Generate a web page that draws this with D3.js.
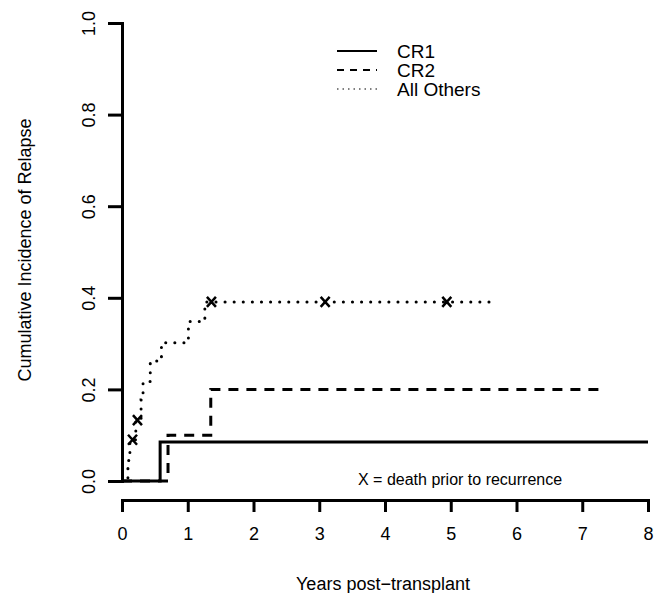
<!DOCTYPE html>
<meta charset="utf-8">
<style>
  body { margin: 0; background: #fff; }
  text { font-family: "Liberation Sans", Arial, sans-serif; fill: #000; }
</style>
<script src="https://d3js.org/d3.v7.min.js"></script>
<div id="chart"></div>
<script>

// step curves, [years, cumulative incidence]
var cr1 = [[0, 0], [0.58, 0.085], [8.0, 0.085]];
var cr2 = [[0, 0], [0.70, 0.10], [1.35, 0.20], [7.30, 0.20]];
var others = [[0, 0], [0.09, 0.045], [0.12, 0.09], [0.21, 0.133], [0.29, 0.177],
              [0.32, 0.217], [0.43, 0.262], [0.60, 0.302], [1.01, 0.348],
              [1.26, 0.391], [5.65, 0.391]];
// deaths prior to recurrence (All Others)
var deaths = [[0.16, 0.09], [0.235, 0.133], [1.36, 0.391], [3.09, 0.391], [4.94, 0.391]];

var xTicks = [0, 1, 2, 3, 4, 5, 6, 7, 8];
var yTicks = [0, 0.2, 0.4, 0.6, 0.8, 1.0];
var legendNames = ["CR1", "CR2", "All Others"];

var width = 660, height = 593;

var svg = d3.select("#chart")
  .append("svg")
    .attr("width", width)
    .attr("height", height);

var x = d3.scaleLinear().domain([0, 8]).range([122, 648]);
var y = d3.scaleLinear().domain([0, 1]).range([481, 23]);

// X axis
var xAxis = svg.append("g")
  .attr("transform", "translate(0,500)")
  .call(d3.axisBottom(x).tickValues(xTicks).tickFormat(d3.format("d"))
        .tickSize(12).tickSizeOuter(0).tickPadding(15.5));
xAxis.select(".domain").attr("stroke-width", 3).attr("stroke-linecap", "square");
xAxis.selectAll(".tick line").attr("stroke-width", 3);
xAxis.selectAll("text").style("font-size", "18px").attr("font-family", null);

// Y axis
var yAxis = svg.append("g")
  .attr("transform", "translate(122,0)")
  .call(d3.axisLeft(y).tickValues(yTicks).tickFormat(d3.format(".1f"))
        .tickSize(14).tickSizeOuter(0));
yAxis.select(".domain").attr("stroke-width", 3).attr("stroke-linecap", "square");
yAxis.selectAll(".tick line").attr("stroke-width", 3);
yAxis.selectAll("text")
  .attr("x", 0).attr("y", -27).attr("dy", null)
  .attr("text-anchor", "middle")
  .attr("transform", "rotate(-90)")
  .attr("font-family", null)
  .style("font-size", "18px");

// axis titles
svg.append("text")
  .attr("x", 383).attr("y", 590)
  .attr("text-anchor", "middle")
  .style("font-size", "18px")
  .text("Years post\u2212transplant");

svg.append("text")
  .attr("transform", "translate(31,250)rotate(-90)")
  .attr("text-anchor", "middle")
  .style("font-size", "18px")
  .text("Cumulative Incidence of Relapse");

// curves
var line = d3.line()
  .x(function(d) { return x(d[0]); })
  .y(function(d) { return y(d[1]); })
  .curve(d3.curveStepAfter);

svg.append("path").datum(cr1)
  .attr("d", line).attr("fill", "none").attr("stroke", "#000")
  .attr("stroke-width", 3);

svg.append("path").datum(cr2)
  .attr("d", line).attr("fill", "none").attr("stroke", "#000")
  .attr("stroke-width", 3).attr("stroke-dasharray", "10,8");

svg.append("path").datum(others)
  .attr("d", line).attr("fill", "none").attr("stroke", "#000")
  .attr("stroke-width", 3).attr("stroke-linecap", "round")
  .attr("stroke-dasharray", "0.1,9");

// X marks
svg.append("g").selectAll("path")
  .data(deaths)
  .enter()
  .append("path")
    .attr("transform", function(d) { return "translate(" + x(d[0]) + "," + y(d[1]) + ")"; })
    .attr("d", "M-4.5,-5L4.5,5M-4.5,5L4.5,-5")
    .attr("stroke", "#000")
    .attr("stroke-width", 2.5);

svg.append("text")
  .attr("x", 358).attr("y", 485)
  .style("font-size", "16px")
  .text("X = death prior to recurrence");

// legend
var dashes = [null, "7,6", "1.5,4"];
var widths = [2, 2, 1.2];
var leg = svg.append("g").selectAll("g")
  .data(legendNames)
  .enter()
  .append("g")
    .attr("transform", function(d, i) { return "translate(0," + (51 + i * 19) + ")"; });
leg.append("line")
  .attr("x1", 337).attr("x2", 377)
  .attr("stroke", "#000")
  .attr("stroke-width", function(d, i) { return widths[i]; })
  .attr("stroke-dasharray", function(d, i) { return dashes[i]; });
leg.append("text")
  .attr("x", 397).attr("y", 6.5)
  .style("font-size", "19px")
  .text(function(d) { return d; });

</script>
